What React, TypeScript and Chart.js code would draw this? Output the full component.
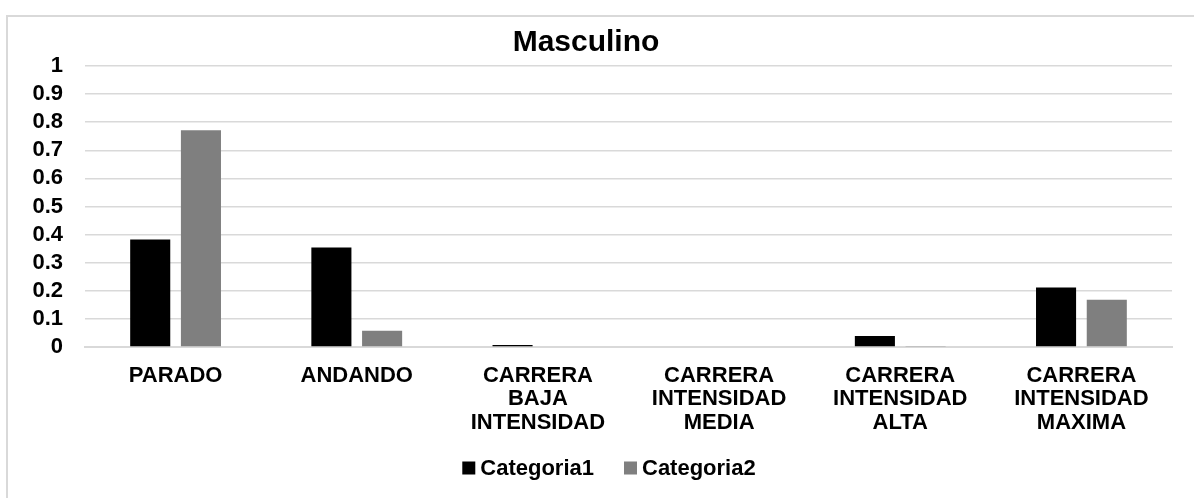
import React, { useEffect, useRef } from "react";
import { Chart, registerables } from "chart.js";

Chart.register(...registerables);

const categories: string[][] = [
  ["PARADO"],
  ["ANDANDO"],
  ["CARRERA", "BAJA", "INTENSIDAD"],
  ["CARRERA", "INTENSIDAD", "MEDIA"],
  ["CARRERA", "INTENSIDAD", "ALTA"],
  ["CARRERA", "INTENSIDAD", "MAXIMA"],
];
const categoria1: number[] = [0.382, 0.354, 0.007, 0, 0.039, 0.211];
const categoria2: number[] = [0.771, 0.057, 0.0, 0, 0.003, 0.168];
const yTickLabels: string[] = ["0", "0.1", "0.2", "0.3", "0.4", "0.5", "0.6", "0.7", "0.8", "0.9", "1"];

const FONT = "'Liberation Sans', Arial, sans-serif";

const framePlugin = {
  id: "frame",
  beforeDraw(chart: any) {
    const ctx = chart.ctx;
    ctx.save();
    ctx.fillStyle = "#ffffff";
    ctx.fillRect(0, 0, chart.width, chart.height);
    ctx.strokeStyle = "#d9d9d9";
    ctx.lineWidth = 2;
    ctx.strokeRect(7, 16, chart.width + 20, chart.height + 20);
    ctx.restore();
  },
};

const legendPlugin = {
  id: "customLegend",
  afterDraw(chart: any) {
    const ctx = chart.ctx;
    const datasets = chart.data.datasets;
    const box = 13;
    const gap = 5;
    const itemGap = 30;
    ctx.save();
    ctx.font = `bold 22px ${FONT}`;
    ctx.textBaseline = "middle";
    ctx.textAlign = "left";
    const widths = datasets.map((d: any) => box + gap + ctx.measureText(d.label).width);
    const total = widths.reduce((a: number, b: number) => a + b, 0) + itemGap * (datasets.length - 1);
    let x = chart.width / 2 + 12 - total / 2;
    const y = 468;
    datasets.forEach((d: any, i: number) => {
      ctx.fillStyle = d.backgroundColor;
      ctx.fillRect(x, y - box / 2, box, box);
      ctx.fillStyle = "#000000";
      ctx.fillText(d.label, x + box + gap, y + 1);
      x += widths[i] + itemGap;
    });
    ctx.restore();
  },
};

export default function App() {
  const ref = useRef<HTMLCanvasElement | null>(null);
  useEffect(() => {
    if (!ref.current) return;
    const chart = new Chart(ref.current, {
      type: "bar",
      data: {
        labels: categories,
        datasets: [
          { label: "Categoria1", data: categoria1, backgroundColor: "#000000", borderWidth: 0 },
          { label: "Categoria2", data: categoria2, backgroundColor: "#7f7f7f", borderWidth: 0 },
        ],
      },
      plugins: [framePlugin, legendPlugin],
      options: {
        animation: false,
        responsive: false,
        maintainAspectRatio: false,
        layout: { padding: { top: 15, right: 22, bottom: 46.5, left: 0 } },
        datasets: { bar: { categoryPercentage: 0.56, barPercentage: 0.79 } },
        plugins: {
          title: {
            display: true,
            text: "Masculino",
            color: "#000000",
            font: { family: FONT, size: 30, weight: "bold", lineHeight: 1.2 },
            padding: { top: 9.5, bottom: 5.5 },
          },
          legend: { display: false },
          tooltip: { enabled: false },
        },
        scales: {
          x: {
            grid: { display: false, drawTicks: false },
            border: { display: true, color: "#d9d9d9", width: 2 },
            ticks: {
              color: "#000000",
              font: { family: FONT, size: 22, weight: "bold", lineHeight: 1.07 },
              padding: 17,
              maxRotation: 0,
              autoSkip: false,
            },
          },
          y: {
            min: 0,
            max: 1,
            afterFit(scale: any) {
              scale.width = 85;
            },
            grid: { color: "#d9d9d9", lineWidth: 1.5, drawTicks: false },
            border: { display: false },
            ticks: {
              stepSize: 0.1,
              autoSkip: false,
              color: "#000000",
              font: { family: FONT, size: 22, weight: "bold" },
              padding: 22,
              callback: (_v: any, i: number) => yTickLabels[i],
            },
          },
        },
      },
    });
    return () => chart.destroy();
  }, []);
  return (
    <div style={{ position: "fixed", left: 0, top: 0, width: 1194, height: 498 }}>
      <canvas ref={ref} width={1194} height={498} style={{ display: "block" }} />
    </div>
  );
}
